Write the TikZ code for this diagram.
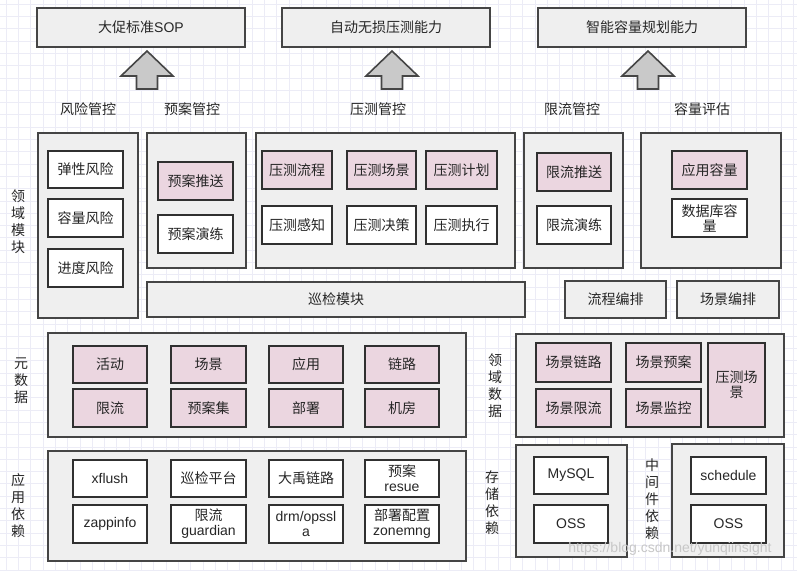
\documentclass[tikz,border=0pt]{standalone}
\usepackage{fontspec}
\setmainfont{Noto Sans CJK SC}
\newfontfamily\lat{Liberation Sans}
\definecolor{cf}{HTML}{EFEFEF}
\definecolor{bd}{HTML}{454545}
\definecolor{ib}{HTML}{303030}
\definecolor{pk}{HTML}{EBD6E0}
\definecolor{af}{HTML}{C9C9C9}
\definecolor{tx}{HTML}{262626}
\definecolor{gridc}{HTML}{ECECF6}
\newcommand\bx[7]{\node[#2, minimum width={(#5)-(#3)}, minimum height={(#6)-(#4)}] (#1) at ({((#3)+(#5))/2},{((#4)+(#6))/2}) {#7};}
\begin{document}
\begin{tikzpicture}[x=1pt,y=-1pt,
  font=\fontsize{14}{15}\selectfont,
  cont/.style={draw=bd, fill=cf, line width=2pt, text=tx, inner sep=0pt},
  topbox/.style={draw=bd, fill=cf, line width=2pt, text=tx, inner sep=0pt},
  wbox/.style={draw=ib, fill=white, line width=2.6pt, text=tx, align=center, inner sep=0pt},
  pbox/.style={wbox, fill=pk},
  lab/.style={text=tx, align=center, inner sep=0pt},
  vlab/.style={text=tx, align=center, inner sep=0pt, font=\fontsize{14}{17}\selectfont},
  bigarrow/.style={draw=bd, fill=af, line width=1.6pt, line join=miter}]
\useasboundingbox (0,0) rectangle (797,570);
\fill[white] (0,0) rectangle (797,570);
\foreach \i in {6,18.3,...,797} \draw[gridc, line width=0.5pt] (\i,0) -- (\i,570);
\foreach \j in {4,16.3,...,570} \draw[gridc, line width=0.5pt] (0,\j) -- (797,\j);

% top goals
\bx{t1}{topbox}{37}{8}{245}{47}{大促标准{\lat SOP}}
\bx{t2}{topbox}{282}{8}{490}{47}{自动无损压测能力}
\bx{t3}{topbox}{538}{8}{746}{47}{智能容量规划能力}

% block arrows
\foreach \c/\n in {147/a1,392/a2,648/a3}{
  \draw[bigarrow] (\c,51) -- ({\c+26},76) -- ({\c+10.5},76) -- ({\c+10.5},89)
     -- ({\c-10.5},89) -- ({\c-10.5},76) -- ({\c-26},76) -- cycle;
}

% category labels
\node[lab] (h1) at (88,109) {风险管控};
\node[lab] (h2) at (192,109) {预案管控};
\node[lab] (h3) at (378,109) {压测管控};
\node[lab] (h4) at (572,109) {限流管控};
\node[lab] (h5) at (702,109) {容量评估};

% side labels
\node[vlab] (s1) at (18,222) {领\\域\\模\\块};
\node[vlab] (s2) at (21,381) {元\\数\\据};
\node[vlab] (s3) at (495,386) {领\\域\\数\\据};
\node[vlab] (s4) at (18,506) {应\\用\\依\\赖};
\node[vlab] (s5) at (492,503) {存\\储\\依\\赖};
\node[vlab] (s6) at (652,499) {中\\间\\件\\依\\赖};

% domain module containers
\bx{c1}{cont}{38}{133}{138}{318}{}
\bx{c2}{cont}{147}{133}{246}{268}{}
\bx{c3}{cont}{256}{133}{515}{268}{}
\bx{c4}{cont}{524}{133}{623}{268}{}
\bx{c5}{cont}{641}{133}{781}{268}{}
\bx{xj}{cont}{147}{282}{525}{317}{巡检模块}
\bx{lc}{cont}{565}{281}{666}{318}{流程编排}
\bx{cj}{cont}{677}{281}{779}{318}{场景编排}

\bx{r1}{wbox}{48}{151}{123}{188}{弹性风险}
\bx{r2}{wbox}{48}{199}{123}{237}{容量风险}
\bx{r3}{wbox}{48}{249}{123}{287}{进度风险}

\bx{p1}{pbox}{158}{162}{233}{200}{预案推送}
\bx{p2}{wbox}{158}{215}{233}{253}{预案演练}

\bx{y1}{pbox}{262}{151}{332}{189}{压测流程}
\bx{y2}{pbox}{347}{151}{416}{189}{压测场景}
\bx{y3}{pbox}{426}{151}{497}{189}{压测计划}
\bx{y4}{wbox}{262}{206}{332}{244}{压测感知}
\bx{y5}{wbox}{347}{206}{416}{244}{压测决策}
\bx{y6}{wbox}{426}{206}{497}{244}{压测执行}

\bx{x1}{pbox}{537}{153}{611}{191}{限流推送}
\bx{x2}{wbox}{537}{206}{611}{244}{限流演练}

\bx{k1}{pbox}{672}{151}{747}{189}{应用容量}
\bx{k2}{wbox}{672}{199}{747}{237}{数据库容\\量}

% metadata
\bx{m0}{cont}{48}{333}{466}{437}{}
\bx{m1}{pbox}{73}{346}{147}{383}{活动}
\bx{m2}{pbox}{171}{346}{246}{383}{场景}
\bx{m3}{pbox}{269}{346}{343}{383}{应用}
\bx{m4}{pbox}{365}{346}{439}{383}{链路}
\bx{m5}{pbox}{73}{389}{147}{427}{限流}
\bx{m6}{pbox}{171}{389}{246}{427}{预案集}
\bx{m7}{pbox}{269}{389}{343}{427}{部署}
\bx{m8}{pbox}{365}{389}{439}{427}{机房}

% domain data
\bx{d0}{cont}{516}{334}{784}{437}{}
\bx{d1}{pbox}{536}{343}{611}{382}{场景链路}
\bx{d2}{pbox}{626}{343}{701}{382}{场景预案}
\bx{d3}{pbox}{536}{389}{611}{427}{场景限流}
\bx{d4}{pbox}{626}{389}{701}{427}{场景监控}
\bx{d5}{pbox}{708}{343}{765}{427}{压测场\\景}

% app deps
\bx{a0}{cont}{48}{451}{466}{561}{}
\bx{e1}{wbox}{73}{460}{147}{497}{\lat xflush}
\bx{e2}{wbox}{171}{460}{246}{497}{巡检平台}
\bx{e3}{wbox}{269}{460}{343}{497}{大禹链路}
\bx{e4}{wbox}{365}{460}{439}{497}{预案\\{\lat resue}}
\bx{e5}{wbox}{73}{505}{147}{543}{\lat zappinfo}
\bx{e6}{wbox}{171}{505}{246}{543}{限流\\{\lat guardian}}
\bx{e7}{wbox}{269}{505}{343}{543}{\lat drm/opssl\\{\lat a}}
\bx{e8}{wbox}{365}{505}{439}{543}{部署配置\\{\lat zonemng}}

% storage deps
\bx{b0}{cont}{516}{445}{627}{557}{}
\bx{b1}{wbox}{534}{457}{608}{494}{\lat MySQL}
\bx{b2}{wbox}{534}{505}{608}{543}{\lat OSS}

% middleware deps
\bx{g0}{cont}{672}{444}{784}{557}{}
\bx{g1}{wbox}{691}{457}{766}{494}{\lat schedule}
\bx{g2}{wbox}{691}{505}{766}{543}{\lat OSS}

% watermark
\node[text=black!22, inner sep=0pt, font=\fontsize{14}{15}\selectfont\lat] (wm) at (670,549) {https://blog.csdn.net/yunqiinsight};
\end{tikzpicture}
\end{document}
